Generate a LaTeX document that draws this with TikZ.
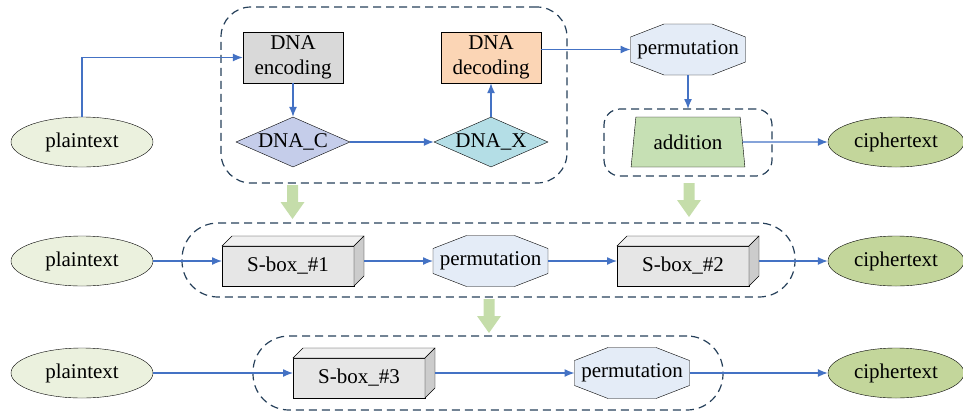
\documentclass[tikz,border=0pt]{standalone}
\usepackage{fontspec}
\setmainfont{Liberation Serif}
\usetikzlibrary{shapes.geometric,arrows.meta,calc}

\definecolor{flowblue}{RGB}{68,114,196}
\definecolor{groupline}{RGB}{38,64,90}
\definecolor{plainfill}{RGB}{235,241,222}
\definecolor{cipherfill}{RGB}{195,214,155}
\definecolor{encfill}{RGB}{217,217,217}
\definecolor{decfill}{RGB}{251,213,181}
\definecolor{dnacfill}{RGB}{197,205,234}
\definecolor{dnaxfill}{RGB}{180,222,230}
\definecolor{permfill}{RGB}{228,236,247}
\definecolor{addfill}{RGB}{198,224,180}
\definecolor{blockgreen}{RGB}{197,221,170}
\definecolor{sboxfill}{RGB}{230,230,230}

\tikzset{
  plain/.style={ellipse, draw, fill=plainfill, minimum width=142pt, minimum height=50pt, inner sep=0pt},
  cipher/.style={ellipse, draw, fill=cipherfill, minimum width=136pt, minimum height=50pt, inner sep=0pt},
  codebox/.style={rectangle, draw, minimum width=100pt, minimum height=51pt, inner sep=0pt, align=center},
  dnabox/.style={diamond, draw, minimum width=114pt, minimum height=50pt, aspect=2.3, inner sep=0pt},
  octshape/.style={draw, fill=permfill},
  octtext/.style={rectangle, minimum width=115pt, minimum height=51pt, inner sep=0pt, outer sep=0pt},
  addbox/.style={trapezium, draw, fill=addfill, trapezium left angle=78, trapezium right angle=78,
    trapezium stretches=true, minimum width=114pt, minimum height=50pt, inner sep=0pt, outer sep=0pt},
  sboxfront/.style={rectangle, draw, fill=sboxfill, minimum width=132pt, minimum height=40pt, inner sep=0pt, outer sep=0pt},
  sboxtop/.style={draw, fill=black!6},
  sboxside/.style={draw, fill=black!20},
  group/.style={rectangle, draw=groupline, line width=1.2pt, dash pattern=on 8pt off 5pt, inner sep=0pt, outer sep=0pt},
  flow/.style={->, draw=flowblue, line width=1.3pt}
}

% octagon: name, position, text
\newcommand{\octnode}[3]{%
  \filldraw[octshape, shift={#2}] (-57.5,-12.5) -- (-24,-25.5) -- (24,-25.5) -- (57.5,-12.5)
    -- (57.5,12.5) -- (24,25.5) -- (-24,25.5) -- (-57.5,12.5) -- cycle;
  \node[octtext] (#1) at #2 {#3};}

% s-box cuboid: name, front face centre, text
\newcommand{\sboxnode}[3]{%
  \node[sboxfront] (#1) at #2 {#3};
  \filldraw[sboxtop] (#1.north west) -- ++(10,-10) -- ++(132,0) -- (#1.north east) -- cycle;
  \filldraw[sboxside] (#1.north east) -- ++(10,-10) -- ++(0,40) -- (#1.south east) -- cycle;
  \coordinate (#1-in) at ($(#1.west)+(0,-5)$);
  \coordinate (#1-out) at ($(#1.east)+(10,-5)$);}

% green block arrow, top centre given
\newcommand{\blockarrow}[1]{%
  \fill[blockgreen, shift={#1}] (-5.5,0) -- (5.5,0) -- (5.5,17) -- (12,17) -- (0,34)
    -- (-12,17) -- (-5.5,17) -- cycle;}

\begin{document}
\begin{tikzpicture}[x=1pt, y=-1pt, >={Latex[length=10pt,width=8pt]}, font=\fontsize{21}{25}\selectfont]
  \useasboundingbox (0,0) rectangle (963,413);

  % Groups
  \node[group, minimum width=346pt, minimum height=176pt, rounded corners=30pt] (g1) at (394,95) {};
  \node[group, minimum width=168pt, minimum height=67pt, rounded corners=16pt] (g2) at (688,142.5) {};
  \node[group, minimum width=613pt, minimum height=74pt, rounded corners=36pt] (g3) at (488.5,260) {};
  \node[group, minimum width=470pt, minimum height=74pt, rounded corners=36pt] (g4) at (488,373) {};

  % Top row
  \node[plain] (pt1) at (82,142) {plaintext};
  \node[codebox, fill=encfill] (enc) at (293,57.5) {DNA\\encoding};
  \node[codebox, fill=decfill] (dec) at (491,57.5) {DNA\\decoding};
  \node[dnabox, fill=dnacfill] (dnac) at (293,142) {DNA\_C};
  \node[dnabox, fill=dnaxfill] (dnax) at (491,142) {DNA\_X};
  \octnode{perm1}{(688,49.5)}{permutation}
  \node[addbox] (add) at (688,142) {addition};
  \node[cipher] (ct1) at (896,142) {ciphertext};

  % Middle row
  \node[plain] (pt2) at (82,261) {plaintext};
  \sboxnode{sb1}{(288,266)}{S-box\_\#1}
  \octnode{perm2}{(490.5,261)}{permutation}
  \sboxnode{sb2}{(683,266)}{S-box\_\#2}
  \node[cipher] (ct2) at (896,261) {ciphertext};

  % Bottom row
  \node[plain] (pt3) at (82,373) {plaintext};
  \sboxnode{sb3}{(359,378)}{S-box\_\#3}
  \octnode{perm3}{(632,373)}{permutation}
  \node[cipher] (ct3) at (896,373) {ciphertext};

  % Lines in the top row
  \draw[flow] (pt1.north) |- (enc.west);
  \draw[flow] (enc) -- (dnac);
  \draw[flow] (dnac) -- (dnax);
  \draw[flow] (dnax) -- (dec);
  \draw[flow] (dec.east |- perm1.west) -- (perm1.west);
  \draw[flow] (perm1) -- (g2.north);
  \draw[flow] (add.east) -- (ct1);

  % Lines in the middle row
  \draw[flow] (pt2) -- (sb1-in);
  \draw[flow] (sb1-out) -- (perm2);
  \draw[flow] (perm2) -- (sb2-in);
  \draw[flow] (sb2-out) -- (ct2);

  % Lines in the bottom row
  \draw[flow] (pt3) -- (sb3-in);
  \draw[flow] (sb3-out) -- (perm3);
  \draw[flow] (perm3) -- (ct3);

  % Arrows between rows
  \blockarrow{(292.5,185)}
  \blockarrow{(689,183)}
  \blockarrow{(489,299)}

\end{tikzpicture}
\end{document}
